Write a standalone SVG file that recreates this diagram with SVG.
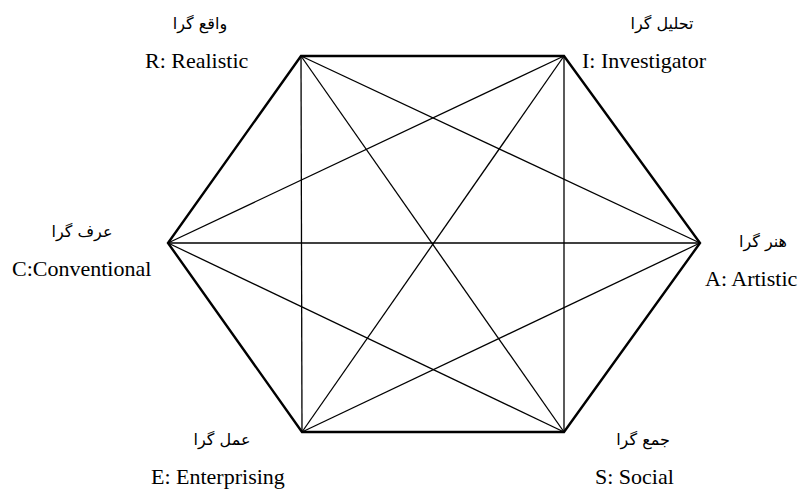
<svg xmlns="http://www.w3.org/2000/svg" width="801" height="490" viewBox="0 0 801 490">
<style>
.edge{stroke:#000;stroke-width:2.4;fill:none;stroke-linecap:round}
.diag{stroke:#000;stroke-width:1.3;fill:none}
.en{font-family:"Liberation Serif","Times New Roman",serif;font-size:22px;fill:#000}
.fa{font-family:"DejaVu Sans",sans-serif;font-size:16px;fill:#000}
</style>
<rect width="801" height="490" fill="#fff"/>
<g id="connectors">
<line class="diag" x1="301" y1="56" x2="700" y2="243"/>
<line class="diag" x1="301" y1="56" x2="564" y2="432"/>
<line class="diag" x1="301" y1="56" x2="302" y2="432"/>
<line class="diag" x1="564" y1="56" x2="564" y2="432"/>
<line class="diag" x1="564" y1="56" x2="302" y2="432"/>
<line class="diag" x1="564" y1="56" x2="168" y2="243"/>
<line class="diag" x1="700" y1="243" x2="302" y2="432"/>
<line class="diag" x1="700" y1="243" x2="168" y2="243"/>
<line class="diag" x1="564" y1="432" x2="168" y2="243"/>
<polygon class="edge" points="301,56 564,56 700,243 564,432 302,432 168,243"/>
</g>
<g id="node-R">
<text class="fa" x="200" y="29" text-anchor="middle">واقع گرا</text>
<text class="en" x="145" y="68">R: Realistic</text>
</g>
<g id="node-I">
<text class="fa" x="662" y="29" text-anchor="middle">تحلیل گرا</text>
<text class="en" x="582" y="68">I: Investigator</text>
</g>
<g id="node-C">
<text class="fa" x="82" y="237" text-anchor="middle">عرف گرا</text>
<text class="en" x="12" y="276">C:Conventional</text>
</g>
<g id="node-A">
<text class="fa" x="763" y="247" text-anchor="middle">هنر گرا</text>
<text class="en" x="705" y="286">A: Artistic</text>
</g>
<g id="node-E">
<text class="fa" x="222" y="445" text-anchor="middle">عمل گرا</text>
<text class="en" x="151" y="484">E: Enterprising</text>
</g>
<g id="node-S">
<text class="fa" x="643" y="445" text-anchor="middle">جمع گرا</text>
<text class="en" x="595" y="484">S: Social</text>
</g>
</svg>
